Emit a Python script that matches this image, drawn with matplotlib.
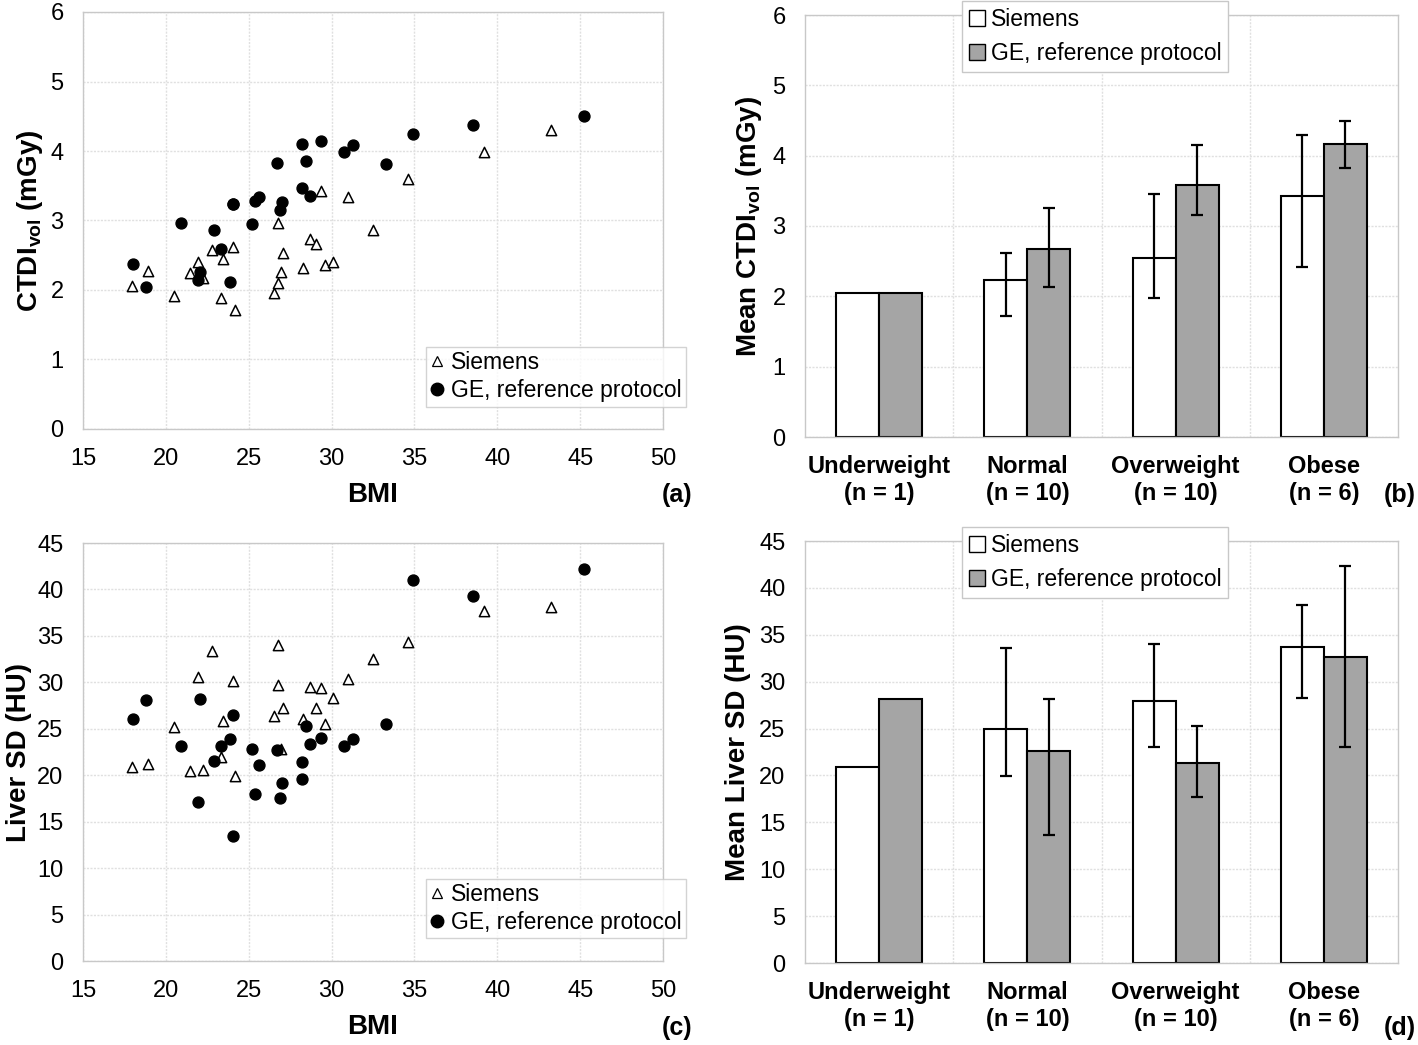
import matplotlib
matplotlib.use("Agg")
import matplotlib.pyplot as plt
import numpy as np
from matplotlib.lines import Line2D
from matplotlib.patches import Patch

plt.rcParams['font.family'] = ['Liberation Sans', 'DejaVu Sans']
plt.rcParams['mathtext.fontset'] = 'custom'
plt.rcParams['mathtext.rm'] = 'Liberation Sans'
plt.rcParams['mathtext.bf'] = 'Liberation Sans:bold'

# ---------------- data ----------------
siemens_bmi = [17.96, 18.95, 20.49, 21.43, 21.95, 22.26, 22.77, 23.35, 23.47, 24.06, 24.16,
               26.52, 26.79, 26.79, 26.94, 27.05, 28.26, 28.67, 29.04, 29.35, 29.58, 30.07,
               30.98, 32.47, 34.61, 39.20, 43.25]
siemens_ctdi = [2.06, 2.27, 1.92, 2.24, 2.40, 2.17, 2.57, 1.88, 2.44, 2.62, 1.71,
                1.96, 2.10, 2.96, 2.26, 2.53, 2.31, 2.74, 2.66, 3.43, 2.36, 2.40,
                3.34, 2.87, 3.60, 3.99, 4.30]
siemens_sd = [20.9, 21.2, 25.2, 20.5, 30.6, 20.6, 33.4, 22.0, 25.8, 30.1, 19.9,
              26.4, 34.0, 29.7, 22.8, 27.2, 26.1, 29.5, 27.2, 29.4, 25.5, 28.3,
              30.4, 32.5, 34.3, 37.7, 38.1]

ge_bmi = [18.04, 18.80, 20.90, 22.08, 21.93, 22.90, 23.35, 23.88, 24.03, 24.08, 25.17,
          25.61, 25.35, 26.68, 26.91, 27.03, 28.23, 28.23, 28.48, 28.67, 29.39, 30.76,
          31.28, 33.29, 34.91, 38.56, 45.25]
ge_ctdi = [2.38, 2.05, 2.97, 2.26, 2.15, 2.87, 2.59, 2.12, 3.24, 3.24, 2.95,
           3.34, 3.28, 3.83, 3.15, 3.26, 4.10, 3.47, 3.86, 3.35, 4.14, 3.99,
           4.08, 3.81, 4.24, 4.37, 4.50]
ge_sd = [26.1, 28.1, 23.1, 28.2, 17.1, 21.5, 23.1, 23.9, 26.5, 13.5, 22.8,
         21.1, 18.0, 22.7, 17.6, 19.2, 21.4, 19.6, 25.3, 23.4, 24.0, 23.1,
         23.9, 25.5, 41.0, 39.3, 42.2]

categories = ['Underweight\n(n = 1)', 'Normal\n(n = 10)', 'Overweight\n(n = 10)', 'Obese\n(n = 6)']

ctdi_mean_siemens = [2.05, 2.23, 2.54, 3.42]
ctdi_hi_siemens = [2.05, 2.62, 3.45, 4.30]
ctdi_lo_siemens = [2.05, 1.72, 1.98, 2.41]
ctdi_mean_ge = [2.05, 2.68, 3.58, 4.16]
ctdi_hi_ge = [2.05, 3.25, 4.15, 4.50]
ctdi_lo_ge = [2.05, 2.13, 3.16, 3.82]

sd_mean_siemens = [20.9, 24.95, 27.9, 33.65]
sd_hi_siemens = [20.9, 33.55, 34.0, 38.2]
sd_lo_siemens = [20.9, 19.9, 23.0, 28.3]
sd_mean_ge = [28.1, 22.65, 21.3, 32.6]
sd_hi_ge = [28.1, 28.2, 25.3, 42.3]
sd_lo_ge = [28.1, 13.6, 17.7, 23.0]

# ---------------- styling ----------------
GRID = '#e0e0e0'
SPINE = '#c8c8c8'
TICK_FS = 17
LABEL_FS = 20
LEG_FS = 16.5
GE_GRAY = '#a5a5a5'

W, H = 1418, 1045
fig = plt.figure(figsize=(W / 100, H / 100), dpi=100)


def ax_rect(l, t, r, b):
    return [l / W, 1 - b / H, (r - l) / W, (b - t) / H]


def style_axes(ax):
    for s in ax.spines.values():
        s.set_color(SPINE)
        s.set_linewidth(1.0)
    ax.tick_params(length=0, labelsize=TICK_FS, colors='black')
    ax.set_axisbelow(True)


def scatter_panel(ax, ys, yg, ylim, yticks, ylabel):
    ax.scatter(siemens_bmi, ys, marker='^', s=55, facecolor='white', edgecolor='black',
               linewidths=1.1, zorder=3)
    ax.scatter(ge_bmi, yg, marker='o', s=62, facecolor='black', edgecolor='black', zorder=4)
    ax.set_xlim(15, 50)
    ax.set_ylim(*ylim)
    ax.set_xticks(range(15, 51, 5))
    ax.set_yticks(yticks)
    ax.grid(True, color=GRID, linewidth=1.0, linestyle=(0, (1.5, 1)))
    style_axes(ax)
    ax.tick_params(axis='x', pad=14)
    ax.tick_params(axis='y', pad=14)
    ax.set_xlabel('BMI', fontsize=LABEL_FS, fontweight='bold', labelpad=8)
    ax.set_ylabel(ylabel, fontsize=LABEL_FS, fontweight='bold', labelpad=4)
    handles = [Line2D([], [], marker='^', linestyle='none', markersize=7,
                      markerfacecolor='white', markeredgecolor='black', markeredgewidth=0.9),
               Line2D([], [], marker='o', linestyle='none', markersize=9,
                      markerfacecolor='black', markeredgecolor='black')]
    leg = ax.legend(handles, ['Siemens', 'GE, reference protocol'], loc='upper left',
                    bbox_to_anchor=(0.591, 0.197), fontsize=LEG_FS, frameon=True, fancybox=False,
                    handlelength=0.6, handletextpad=0.3, borderpad=0.2, labelspacing=0.2,
                    borderaxespad=0)
    leg.get_frame().set_edgecolor('#c8c8c8')
    leg.get_frame().set_linewidth(1.0)


def bar_panel(ax, ms, his, los, mg, hig, log, ylim, yticks, ylabel):
    x = np.arange(len(categories))
    w = 0.29
    es = [np.array(ms) - np.array(los), np.array(his) - np.array(ms)]
    eg = [np.array(mg) - np.array(log), np.array(hig) - np.array(mg)]
    ax.bar(x - w / 2, ms, width=w, color='white', edgecolor='black', linewidth=1.5, zorder=2)
    ax.bar(x + w / 2, mg, width=w, color=GE_GRAY, edgecolor='black', linewidth=1.5, zorder=2)
    for xi, m, e0, e1 in zip(x - w / 2, ms, es[0], es[1]):
        if e0 > 0 or e1 > 0:
            ax.errorbar(xi, m, yerr=[[e0], [e1]], fmt='none', ecolor='black', elinewidth=1.6,
                        capsize=4, capthick=1.6, zorder=3)
    for xi, m, e0, e1 in zip(x + w / 2, mg, eg[0], eg[1]):
        if e0 > 0 or e1 > 0:
            ax.errorbar(xi, m, yerr=[[e0], [e1]], fmt='none', ecolor='black', elinewidth=1.6,
                        capsize=4, capthick=1.6, zorder=3)
    ax.set_xlim(-0.5, len(categories) - 0.5)
    ax.set_ylim(*ylim)
    ax.set_yticks(yticks)
    ax.set_xticks(x)
    ax.set_xticklabels(categories, fontsize=16, fontweight='bold', linespacing=1.2)
    ax.set_xticks(np.arange(0.5, len(categories) - 0.5, 1), minor=True)
    ax.grid(True, axis='y', color=GRID, linewidth=1.0, linestyle=(0, (1.5, 1)))
    ax.grid(True, axis='x', which='minor', color=GRID, linewidth=1.0, linestyle=(0, (1.5, 1)))
    style_axes(ax)
    ax.tick_params(which='minor', length=0)
    ax.tick_params(axis='x', pad=13)
    ax.tick_params(axis='y', pad=14)
    ax.set_ylabel(ylabel, fontsize=LABEL_FS, fontweight='bold', labelpad=6)
    handles = [Patch(facecolor='white', edgecolor='black', linewidth=1.0),
               Patch(facecolor=GE_GRAY, edgecolor='black', linewidth=1.0)]
    leg = ax.legend(handles, ['Siemens', 'GE, reference protocol'], loc='upper left',
                    bbox_to_anchor=(0.265, 1.033), fontsize=LEG_FS, frameon=True, fancybox=False,
                    handlelength=0.7, handleheight=0.7, handletextpad=0.25, borderpad=0.3,
                    labelspacing=0.5, borderaxespad=0, framealpha=1)
    leg.get_frame().set_edgecolor('#c8c8c8')
    leg.get_frame().set_linewidth(1.0)


ax_a = fig.add_axes(ax_rect(83, 12, 663, 429))
scatter_panel(ax_a, siemens_ctdi, ge_ctdi, (0, 6), range(0, 7),
              r'CTDI$_{\mathbf{vol}}$ (mGy)')

ax_c = fig.add_axes(ax_rect(83, 543, 663, 961))
scatter_panel(ax_c, siemens_sd, ge_sd, (0, 45), range(0, 46, 5), 'Liver SD (HU)')

ax_b = fig.add_axes(ax_rect(805, 15, 1398, 437))
bar_panel(ax_b, ctdi_mean_siemens, ctdi_hi_siemens, ctdi_lo_siemens,
          ctdi_mean_ge, ctdi_hi_ge, ctdi_lo_ge, (0, 6), range(0, 7),
          r'Mean CTDI$_{\mathbf{vol}}$ (mGy)')

ax_d = fig.add_axes(ax_rect(805, 541, 1398, 963))
bar_panel(ax_d, sd_mean_siemens, sd_hi_siemens, sd_lo_siemens,
          sd_mean_ge, sd_hi_ge, sd_lo_ge, (0, 45), range(0, 46, 5),
          'Mean Liver SD (HU)')

for label, px, py in [('(a)', 677, 495), ('(b)', 1400, 495), ('(c)', 677, 1028), ('(d)', 1400, 1028)]:
    fig.text(px / W, 1 - py / H, label, fontsize=18, fontweight='bold', ha='center', va='center')

fig.savefig('out.png', dpi=100, facecolor='white')
